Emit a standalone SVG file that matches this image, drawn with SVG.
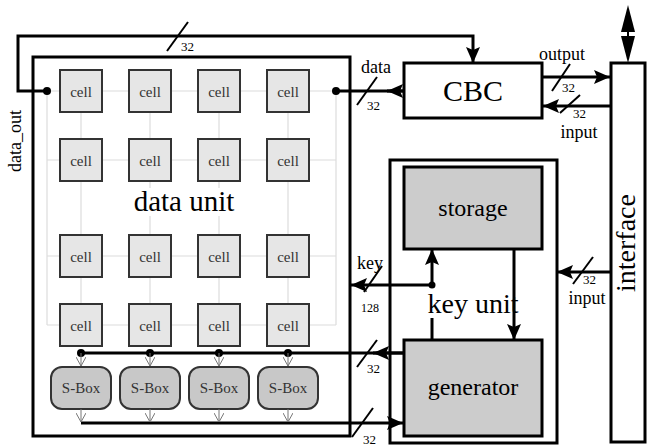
<svg xmlns="http://www.w3.org/2000/svg" width="650" height="446" viewBox="0 0 650 446">
<style>
text{font-family:"Liberation Serif","Times New Roman",serif;fill:#000}
.box{fill:#fff;stroke:#000;stroke-width:3}
.gbox{fill:#cccccc;stroke:#000;stroke-width:3}
.cell{fill:#e6e6e6;stroke:#333;stroke-width:2}
.sbox{fill:#c8c8c8;stroke:#333;stroke-width:2}
.ct{font-size:15px;fill:#333;text-anchor:middle}
.st{font-size:15px;fill:#333;text-anchor:middle}
.w{fill:none;stroke:#000;stroke-width:3}
.grid{fill:none;stroke:#dcdcdc;stroke-width:1.2}
.thin{fill:none;stroke:#777;stroke-width:1}
.sl{stroke:#000;stroke-width:2}
.lbl{font-size:18px}
.n{font-size:13px}
</style>
<defs>
<marker id="ah" markerUnits="userSpaceOnUse" markerWidth="17" markerHeight="14" viewBox="0 0 17 14" refX="16" refY="7" orient="auto">
<path d="M0,0 L16,7 L0,14 L3,7 z" fill="#000"/>
</marker>
<marker id="va" markerUnits="userSpaceOnUse" markerWidth="12" markerHeight="10" viewBox="0 0 12 10" refX="10" refY="5" orient="auto">
<path d="M1,0 L10,5 L1,10" fill="none" stroke="#777" stroke-width="1"/>
</marker>
</defs>

<g id="data_unit">
<rect class="box" x="33" y="57" width="317" height="379"/>
<g class="grid">
<path d="M47,91 H336 M47,160 H336 M47,256 H336 M47,325 H336 M47,91 V325 M336,91 V325 M81,91 V325 M150,91 V325 M219,91 V325 M288,91 V325"/>
</g>
<rect x="128" y="188" width="112" height="28" fill="#fff"/>
<text x="184" y="211" font-size="29" text-anchor="middle">data unit</text>
</g>

<g id="cells">
<g id="cell_1_1"><rect class="cell" x="60" y="70" width="42" height="42"/><text class="ct" x="81" y="96.5">cell</text></g>
<g id="cell_1_2"><rect class="cell" x="129" y="70" width="42" height="42"/><text class="ct" x="150" y="96.5">cell</text></g>
<g id="cell_1_3"><rect class="cell" x="198" y="70" width="42" height="42"/><text class="ct" x="219" y="96.5">cell</text></g>
<g id="cell_1_4"><rect class="cell" x="267" y="70" width="42" height="42"/><text class="ct" x="288" y="96.5">cell</text></g>
<g id="cell_2_1"><rect class="cell" x="60" y="139" width="42" height="42"/><text class="ct" x="81" y="165.5">cell</text></g>
<g id="cell_2_2"><rect class="cell" x="129" y="139" width="42" height="42"/><text class="ct" x="150" y="165.5">cell</text></g>
<g id="cell_2_3"><rect class="cell" x="198" y="139" width="42" height="42"/><text class="ct" x="219" y="165.5">cell</text></g>
<g id="cell_2_4"><rect class="cell" x="267" y="139" width="42" height="42"/><text class="ct" x="288" y="165.5">cell</text></g>
<g id="cell_3_1"><rect class="cell" x="60" y="235" width="42" height="42"/><text class="ct" x="81" y="261.5">cell</text></g>
<g id="cell_3_2"><rect class="cell" x="129" y="235" width="42" height="42"/><text class="ct" x="150" y="261.5">cell</text></g>
<g id="cell_3_3"><rect class="cell" x="198" y="235" width="42" height="42"/><text class="ct" x="219" y="261.5">cell</text></g>
<g id="cell_3_4"><rect class="cell" x="267" y="235" width="42" height="42"/><text class="ct" x="288" y="261.5">cell</text></g>
<g id="cell_4_1"><rect class="cell" x="60" y="304" width="42" height="42"/><text class="ct" x="81" y="330.5">cell</text></g>
<g id="cell_4_2"><rect class="cell" x="129" y="304" width="42" height="42"/><text class="ct" x="150" y="330.5">cell</text></g>
<g id="cell_4_3"><rect class="cell" x="198" y="304" width="42" height="42"/><text class="ct" x="219" y="330.5">cell</text></g>
<g id="cell_4_4"><rect class="cell" x="267" y="304" width="42" height="42"/><text class="ct" x="288" y="330.5">cell</text></g>
</g>

<g id="sboxes">
<g id="sbox_1"><rect class="sbox" x="51" y="367" width="60" height="42" rx="11"/><text class="st" x="81" y="393">S-Box</text></g>
<g id="sbox_2"><rect class="sbox" x="120" y="367" width="60" height="42" rx="11"/><text class="st" x="150" y="393">S-Box</text></g>
<g id="sbox_3"><rect class="sbox" x="189" y="367" width="60" height="42" rx="11"/><text class="st" x="219" y="393">S-Box</text></g>
<g id="sbox_4"><rect class="sbox" x="258" y="367" width="60" height="42" rx="11"/><text class="st" x="288" y="393">S-Box</text></g>
</g>

<g id="cbc">
<rect class="box" x="404" y="63" width="138" height="55"/>
<text x="473" y="101" font-size="30" text-anchor="middle">CBC</text>
</g>

<g id="interface">
<rect class="box" x="611" y="63" width="34" height="379"/>
<text transform="translate(635,243) rotate(-90)" font-size="28" text-anchor="middle">interface</text>
</g>

<g id="key_unit">
<rect class="box" x="390" y="160" width="167" height="283"/>
<text x="473" y="313" font-size="28" text-anchor="middle">key unit</text>
</g>

<g id="storage">
<rect class="gbox" x="404" y="167" width="138" height="82"/>
<text x="473" y="216" font-size="24" text-anchor="middle">storage</text>
</g>

<g id="generator">
<rect class="gbox" x="404" y="340" width="138" height="96"/>
<text x="473" y="395" font-size="24" text-anchor="middle">generator</text>
</g>

<g id="connectors">
<path class="w" d="M47,91 H18 V36 H473 V63" marker-end="url(#ah)"/>
<path class="w" d="M336,91 H404"/>
<path class="w" d="M404,91 H387" marker-end="url(#ah)"/>
<path class="w" d="M542,77 H610" marker-end="url(#ah)"/>
<path class="w" d="M610,106 H543" marker-end="url(#ah)"/>
<path class="w" d="M611,272 H557" marker-end="url(#ah)"/>
<path class="w" d="M514,249 V340" marker-end="url(#ah)"/>
<path class="w" d="M432,340 V318"/>
<path class="w" d="M432,285 V249" marker-end="url(#ah)"/>
<path class="w" d="M432,285 H351" marker-end="url(#ah)"/>
<path class="w" d="M81,353 H403"/>
<path class="w" d="M403,353 H373" marker-end="url(#ah)"/>
<path class="w" d="M81,423 H403" marker-end="url(#ah)"/>
<g fill="#000">
<circle cx="47" cy="91" r="4"/>
<circle cx="336" cy="91" r="4"/>
<circle cx="432" cy="285" r="3.5"/>
<circle cx="81" cy="353" r="4"/>
<circle cx="150" cy="353" r="4"/>
<circle cx="219" cy="353" r="4"/>
<circle cx="288" cy="353" r="4"/>
</g>
<g class="thin">
<path d="M81,353 V366" marker-end="url(#va)"/>
<path d="M150,353 V366" marker-end="url(#va)"/>
<path d="M219,353 V366" marker-end="url(#va)"/>
<path d="M288,353 V366" marker-end="url(#va)"/>
<path d="M81,409 V422" marker-end="url(#va)"/>
<path d="M150,409 V422" marker-end="url(#va)"/>
<path d="M219,409 V422" marker-end="url(#va)"/>
<path d="M288,409 V422" marker-end="url(#va)"/>
</g>
<g id="io_arrow">
<polygon points="628,5 621,32 635,32" fill="#000"/>
<line x1="628" y1="31" x2="628" y2="37" stroke="#000" stroke-width="2"/>
<polygon points="621,36 635,36 628,63" fill="#000"/>
</g>
<g class="sl">
<line x1="167" y1="51" x2="188" y2="22"/>
<line x1="357" y1="105" x2="377" y2="77"/>
<line x1="552" y1="91" x2="570" y2="64"/>
<line x1="560" y1="113" x2="580" y2="95"/>
<line x1="573" y1="284" x2="593" y2="257"/>
<line x1="364" y1="292" x2="382" y2="266"/>
<line x1="357" y1="367" x2="377" y2="340"/>
<line x1="352" y1="437" x2="373" y2="408"/>
</g>
</g>

<g id="labels">
<text class="n" x="181" y="51">32</text>
<text class="lbl" x="376" y="73" text-anchor="middle">data</text>
<text class="n" x="367" y="110">32</text>
<text class="lbl" x="562" y="60" text-anchor="middle">output</text>
<text class="n" x="562" y="92">32</text>
<text class="n" x="573" y="118">32</text>
<text class="lbl" x="579" y="138" text-anchor="middle">input</text>
<text class="n" x="583" y="284">32</text>
<text class="lbl" x="587" y="304" text-anchor="middle">input</text>
<text class="lbl" x="370" y="269" text-anchor="middle">key</text>
<text x="370" y="312" font-size="12" text-anchor="middle">128</text>
<text class="n" x="367" y="373">32</text>
<text class="n" x="363" y="444">32</text>
<text class="lbl" transform="translate(21,141) rotate(-90)" text-anchor="middle">data_out</text>
</g>
</svg>
